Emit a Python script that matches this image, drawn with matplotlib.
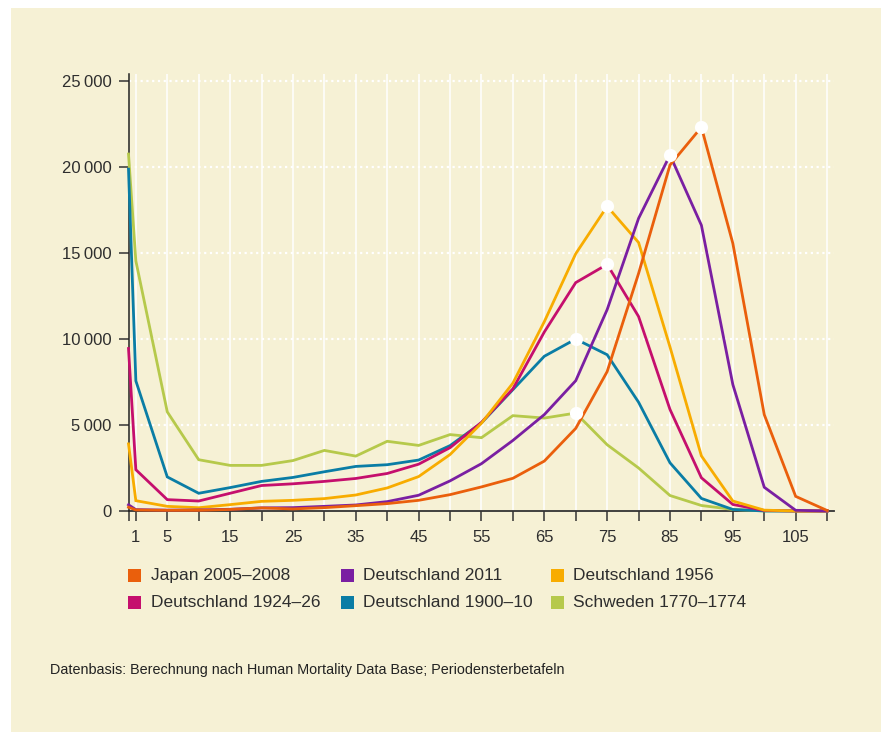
import numpy as np
import matplotlib
matplotlib.use("Agg")
import matplotlib.pyplot as plt
from matplotlib.patches import Rectangle

plt.rcParams['font.family'] = ['Liberation Sans', 'DejaVu Sans']

# ---------------- data ----------------
ages = [0, 1, 5, 10, 15, 20, 25, 30, 35, 40, 45, 50, 55, 60, 65, 70, 75,
        80, 85, 90, 95, 100, 105, 110]

japan = [220, 60, 40, 40, 90, 180, 120, 195, 310, 430, 620, 950, 1400, 1900,
         2900, 4800, 8100, 13800, 20100, 22300, 15550, 5600, 850, 30]
de2011 = [360, 80, 50, 60, 100, 180, 195, 270, 350, 545, 915, 1750, 2750, 4100,
          5600, 7570, 11700, 17000, 20680, 16600, 7350, 1380, 40, 0]
de1956 = [3900, 600, 270, 190, 370, 560, 620, 720, 930, 1340, 2000, 3280, 5100,
          7430, 11000, 14950, 17700, 15600, 9530, 3200, 580, 50, 0, 0]
de1924 = [9440, 2400, 660, 580, 1030, 1480, 1580, 1720, 1890, 2180, 2720, 3680,
          5150, 7100, 10400, 13270, 14330, 11300, 5900, 1930, 380, 30, 0, 0]
de1900 = [19860, 7560, 1980, 1030, 1360, 1720, 1950, 2280, 2590, 2690, 2960,
          3800, 5120, 7050, 8990, 9990, 9080, 6320, 2800, 730, 90, 0, 0, 0]
schweden = [20740, 14530, 5760, 2980, 2650, 2650, 2930, 3520, 3190, 4050, 3810,
            4440, 4260, 5540, 5400, 5690, 3850, 2500, 900, 320, 90, 10, 0, 0]

labels = ["Japan 2005–2008", "Deutschland 2011", "Deutschland 1956",
          "Deutschland 1924–26", "Deutschland 1900–10", "Schweden 1770–1774"]
peak_ages = [90, 85, 75, 75, 70, 70]
colors = ["#ea5f0c", "#7a1fa2", "#f8ac00", "#c50f6d", "#0a7da5", "#b6c94b"]
series = [japan, de2011, de1956, de1924, de1900, schweden]

xtick_pos = [0, 1] + list(range(5, 111, 5))
xtick_labels = ["", "1", "5", "", "15", "", "25", "", "35", "", "45", "", "55",
                "", "65", "", "75", "", "85", "", "95", "", "105", ""]
ytick_pos = [0, 5000, 10000, 15000, 20000, 25000]
ytick_labels = ["0", "5\u2009000", "10\u2009000", "15\u2009000", "20\u2009000",
                "25\u2009000"]

# ---------------- figure ----------------
W, H = 881, 732
BG = "#f6f1d5"
TXT = "#2e2e2e"
fig = plt.figure(figsize=(W / 100, H / 100), dpi=100)
fig.patch.set_facecolor("white")
fig.add_artist(Rectangle((11 / W, 0), 1, 1 - 8 / H, transform=fig.transFigure,
                         facecolor=BG, edgecolor="none", zorder=-10))

ax = fig.add_axes([128.5 / W, 1 - 511 / H, (834 - 128.5) / W, (511 - 74) / H])
ax.set_facecolor(BG)

# compressed scale for ages 0-1 (life-table age groups)
_a = [0, 1, 5, 300]
_p = [-1.17, 0, 5, 300]
def fwd(x):
    return np.interp(x, _a, _p)
def inv(x):
    return np.interp(x, _p, _a)
ax.set_xscale('function', functions=(fwd, inv))
ax.set_xlim(0, 111.1)
ax.set_ylim(0, 25390)

# grid
for xv in xtick_pos[1:]:
    ax.axvline(xv, color="white", lw=1.1, zorder=0)
for yv in ytick_pos[1:]:
    ax.axhline(yv, color="white", lw=1.6, ls=(0, (1, 1.6)), zorder=0)

# lines (drawn bottom-up: Schweden first, Japan last)
for i in reversed(range(len(series))):
    ax.plot(ages, series[i], color=colors[i], lw=2.0, zorder=3 + (5 - i) * 0.1,
            clip_on=False, solid_joinstyle="miter")
for i in range(len(series)):
    k = ages.index(peak_ages[i])
    ax.plot([peak_ages[i]], [series[i][k]], marker="o", ms=9.5, color="white",
            mec="none", zorder=5, clip_on=False)

for s in ["top", "right"]:
    ax.spines[s].set_visible(False)
ax.spines["left"].set_color("#222222")
ax.spines["left"].set_linewidth(1.1)
ax.spines["bottom"].set_color("#333333")
ax.spines["bottom"].set_linewidth(1.3)
ax.spines["bottom"].set_zorder(2)

ax.set_xticks(xtick_pos)
ax.set_xticklabels(xtick_labels)
ax.set_yticks(ytick_pos)
ax.set_yticklabels(ytick_labels)
ax.tick_params(axis="x", length=7, width=1.1, color="#333333", pad=7,
               labelsize=12, labelcolor=TXT)
ax.tick_params(axis="y", length=7, width=1.1, color="#333333", pad=5,
               labelsize=12, labelcolor=TXT)

# legend (manual, 3 columns x 2 rows)
col_sq = [128.3, 341.0, 551.0]
col_tx = [151.0, 363.3, 573.3]
row_c = [575.5, 602.7]
for i, c, r in [(0, 0, 0), (1, 1, 0), (2, 2, 0),
                (3, 0, 1), (4, 1, 1), (5, 2, 1)]:
    sq = 12.7
    fig.add_artist(Rectangle((col_sq[c] / W, 1 - (row_c[r] + sq / 2) / H),
                             sq / W, sq / H, transform=fig.transFigure,
                             facecolor=colors[i], edgecolor="none"))
    fig.text(col_tx[c] / W, 1 - row_c[r] / H, labels[i], fontsize=12.5,
             color=TXT, va="center", ha="left")

fig.text(49.6 / W, 1 - 670 / H,
         "Datenbasis: Berechnung nach Human Mortality Data Base; Periodensterbetafeln",
         fontsize=10.4, color="#222222", va="center", ha="left")

fig.savefig("out.png", dpi=100, facecolor=fig.get_facecolor())
